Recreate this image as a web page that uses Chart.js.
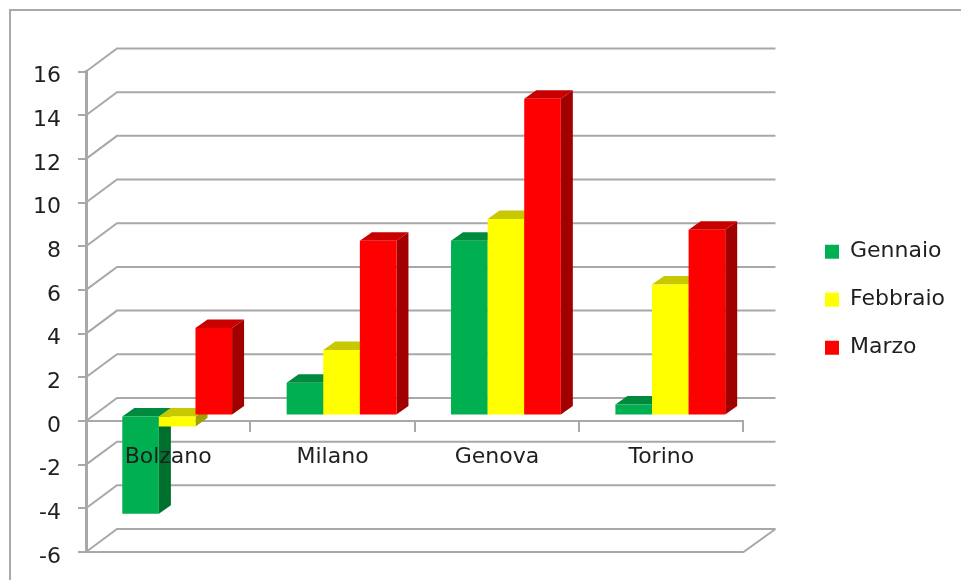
<!DOCTYPE html>
<html>
<head>
<meta charset="utf-8">
<style>
    html, body { margin: 0; padding: 0; background: #fff; overflow: hidden; }
    #wrap { position: relative; width: 961px; height: 580px; overflow: hidden; filter: blur(0.4px); }
    #frame { position: absolute; left: 9px; top: 9px; width: 960px; height: 580px; border-left: 2px solid #a9a9a9; border-top: 2px solid #a9a9a9; }
    canvas { position: absolute; left: 0; top: 0; }
</style>
<script src="https://cdn.jsdelivr.net/npm/chart.js@4/dist/chart.umd.js"></script>
</head>
<body>
<div id="wrap">
    <div id="frame"></div>
    <canvas id="chart" width="961" height="580"></canvas>
</div>
<script>
const cities = ['Bolzano', 'Milano', 'Genova', 'Torino'];
const gennaio = [-4.5, 1.5, 8, 0.5];
const febbraio = [-0.5, 3, 9, 6];
const marzo = [4, 8, 14.5, 8.5];

const lineColor = '#a8a8a8';
const textColor = '#1f1f1f';
const fontFamily = '"DejaVu Sans", Verdana, sans-serif';

// wall sits behind the axes, bars sit a bit in front of the wall
const wallX = 31, wallY = 23;
const barX = 9, barY = 5.5;
const depthX = 12, depthY = 8.5;

const shades = [
    { top: '#008a3e', side: '#00702f' },
    { top: '#c8c800', side: '#a0a000' },
    { top: '#c80000', side: '#a00000' },
];

const fakeDepth = {
    id: 'fakeDepth',
    afterLayout(chart) {
        // legend goes further right than its layout box
        const legend = chart.legend;
        const w = legend.right - legend.left;
        legend.left = 799;
        legend.right = legend.left + w;
        legend.top -= 12;
        legend.bottom -= 12;
    },
    beforeDatasetsDraw(chart) {
        const ctx = chart.ctx;
        const y = chart.scales.y;
        const left = chart.chartArea.left, right = chart.chartArea.right;

        ctx.save();
        ctx.strokeStyle = lineColor;
        ctx.lineWidth = 2;
        y.ticks.forEach(t => {
            const py = y.getPixelForValue(t.value);
            ctx.beginPath();
            ctx.moveTo(left, py);
            ctx.lineTo(left + wallX, py - wallY);
            ctx.lineTo(right + wallX + 1, py - wallY);
            ctx.stroke();
        });
        // floor
        const floor = y.getPixelForValue(y.min);
        ctx.beginPath();
        ctx.moveTo(left, floor);
        ctx.lineTo(right, floor);
        ctx.lineTo(right + wallX + 1, floor - wallY);
        ctx.stroke();
        ctx.restore();

        // series in order, left one first, so the next bar covers its side
        chart.data.datasets.forEach((ds, i) => {
            const meta = chart.getDatasetMeta(i);
            ctx.save();
            ctx.translate(barX, -barY);
            meta.data.forEach(bar => {
                const p = bar.getProps(['x', 'y', 'base', 'width']);
                const x0 = p.x - p.width / 2, x1 = p.x + p.width / 2;
                const yTop = Math.min(p.y, p.base), yBottom = Math.max(p.y, p.base);
                ctx.fillStyle = shades[i].side;
                ctx.beginPath();
                ctx.moveTo(x1, yTop);
                ctx.lineTo(x1 + depthX, yTop - depthY);
                ctx.lineTo(x1 + depthX, yBottom - depthY);
                ctx.lineTo(x1, yBottom);
                ctx.closePath();
                ctx.fill();
                ctx.fillStyle = shades[i].top;
                ctx.beginPath();
                ctx.moveTo(x0, yTop);
                ctx.lineTo(x0 + depthX, yTop - depthY);
                ctx.lineTo(x1 + depthX, yTop - depthY);
                ctx.lineTo(x1, yTop);
                ctx.closePath();
                ctx.fill();
            });
            meta.controller.draw();
            ctx.restore();
        });
    },
    beforeDatasetDraw() {
        return false; // already drawn above
    },
};

new Chart(document.getElementById('chart').getContext('2d'), {
    type: 'bar',
    data: {
        labels: cities,
        datasets: [
            { label: 'Gennaio', data: gennaio, backgroundColor: '#00b050', borderWidth: 0 },
            { label: 'Febbraio', data: febbraio, backgroundColor: '#ffff00', borderWidth: 0 },
            { label: 'Marzo', data: marzo, backgroundColor: '#ff0000', borderWidth: 0 },
        ],
    },
    plugins: [fakeDepth],
    options: {
        responsive: false,
        animation: false,
        events: [],
        layout: { padding: { left: 0, top: 71.5, right: 61.5, bottom: 28 } },
        datasets: { bar: { barPercentage: 1, categoryPercentage: 0.668 } },
        plugins: {
            tooltip: { enabled: false },
            legend: {
                position: 'right',
                labels: {
                    boxWidth: 14,
                    boxHeight: 14,
                    padding: 26,
                    color: textColor,
                    font: { family: fontFamily, size: 22 },
                },
            },
        },
        scales: {
            x: {
                position: { y: 0 },
                afterFit(scale) { scale.height = 0; },
                grid: { drawOnChartArea: false, tickLength: 10, tickColor: lineColor, lineWidth: 2 },
                border: { color: lineColor, width: 2 },
                ticks: {
                    z: 1,
                    padding: 13,
                    color: textColor,
                    maxRotation: 0,
                    autoSkip: false,
                    font: { family: fontFamily, size: 22 },
                },
            },
            y: {
                min: -6,
                max: 16,
                afterFit(scale) {
                    scale.width = 86;
                    scale.paddingBottom = 0; // tick padding would push the plot up
                },
                grid: { drawOnChartArea: false, tickLength: 8, tickColor: lineColor, lineWidth: 2 },
                border: { color: lineColor, width: 3 },
                ticks: {
                    stepSize: 2,
                    padding: 17,
                    labelOffset: 5,
                    color: textColor,
                    font: { family: fontFamily, size: 22 },
                },
            },
        },
    },
});
</script>
</body>
</html>
